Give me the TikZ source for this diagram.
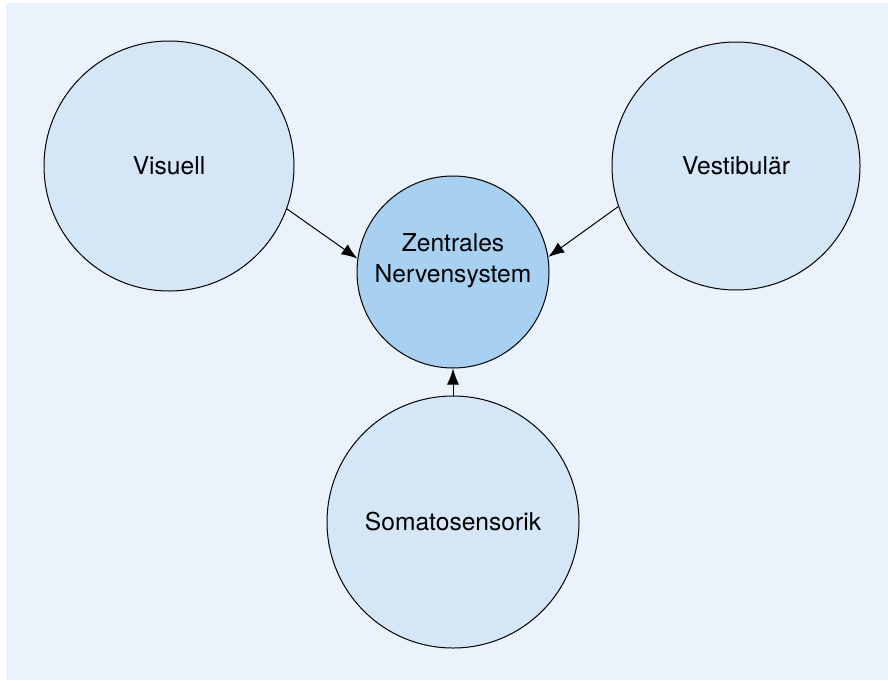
\documentclass[tikz,border=0pt]{standalone}
\usepackage{fontspec}
\setmainfont{TeX Gyre Heros}
\usepackage{tikz}
\usetikzlibrary{arrows.meta,positioning}

\definecolor{bgblue}{RGB}{234,242,252}
\definecolor{sinnblue}{RGB}{213,230,247}
\definecolor{zentralblue}{RGB}{168,208,240}

\begin{document}
\begin{tikzpicture}[x=0.5pt, y=-0.5pt, line width=0.5pt,
	sinn/.style={circle, draw, fill=sinnblue, inner sep=0pt, font=\fontsize{12.3pt}{15.5pt}\selectfont},
	zentral/.style={circle, draw, fill=zentralblue, inner sep=0pt, align=center, minimum size=96pt, text depth=14pt, font=\fontsize{12.3pt}{15.5pt}\selectfont},
	pfeil/.style={-{Latex[length=8pt, width=6pt]}}]
	\useasboundingbox (0,0) rectangle (888,680);
	\fill[bgblue] (6,3) rectangle (888,680);

	\node (zns) at (453,272) [zentral] {Zentrales\\Nervensystem};
	\node (vis) at (169,166) [sinn, minimum size=125pt] {Visuell};
	\node (ves) at (736,166) [sinn, minimum size=124pt] {Vestibulär};
	\node (som) at (453,522) [sinn, minimum size=126pt] {Somatosensorik};

	% Pfeile zum ZNS
	\draw[pfeil] (vis.-20) -- (zns.172);
	\draw[pfeil] (ves.-161) -- (zns.9);
	\draw[pfeil] (som.north) -- (zns.south);
\end{tikzpicture}
\end{document}
